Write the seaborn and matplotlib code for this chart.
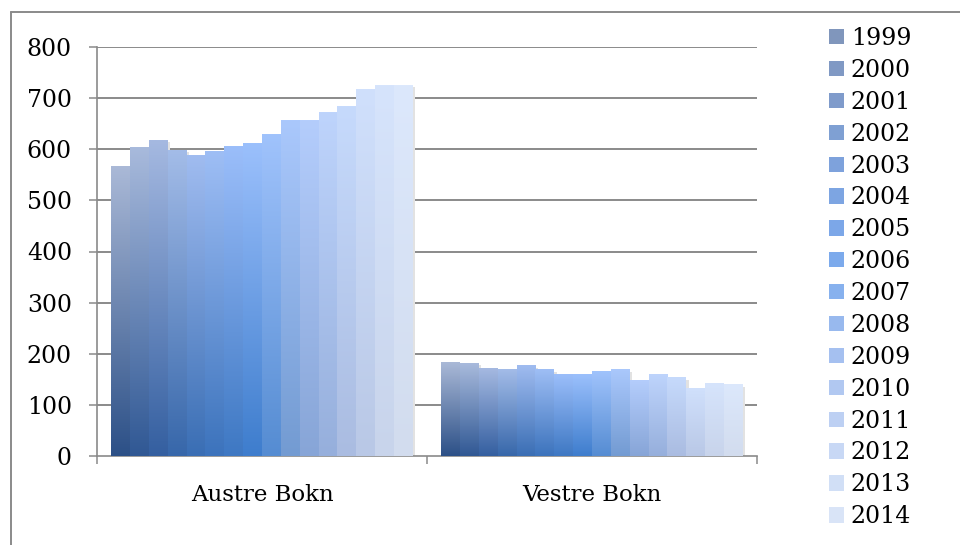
import numpy as np
import pandas as pd
import seaborn as sns
import matplotlib.pyplot as plt
from matplotlib.patches import Patch, Rectangle
from matplotlib.lines import Line2D
from matplotlib.colors import to_rgb
import matplotlib.transforms as mtransforms

# data
regions = ["Austre Bokn", "Vestre Bokn"]
years = [str(y) for y in range(1999, 2015)]
austre = [567, 603, 618, 598, 587, 595, 605, 611, 629, 656, 656, 672, 684, 716, 725, 725]
vestre = [183, 181, 171, 169, 177, 169, 159, 159, 165, 169, 147, 159, 153, 133, 141, 139]
y_ticks = [0, 100, 200, 300, 400, 500, 600, 700, 800]

# gradient colours per year (bottom -> top)
bottom_cols = ["#2c5087", "#305894", "#345fa0", "#3767aa", "#3a6eb4", "#3c73bc", "#3e78c3", "#3e7dcd",
               "#558cd2", "#739bd2", "#87a5d7", "#96afdc", "#aabce1", "#b9c8e6", "#c8d4eb", "#d2dcee"]
top_cols = ["#aab9d7", "#a8badc", "#a5b9e1", "#a3bce8", "#a0bcf0", "#9ebef5", "#9bbefa", "#9bc0fc",
            "#a0c3fc", "#aac8fc", "#b4cdfc", "#bed4fc", "#c6dafc", "#d0e0fc", "#d6e4fc", "#dce8fc"]
mid_cols = [tuple((np.array(to_rgb(b)) + 2 * np.array(to_rgb(t))) / 3) for b, t in zip(bottom_cols, top_cols)]

df = pd.DataFrame({
    "region": [r for r in regions for _ in years],
    "year": years * 2,
    "value": austre + vestre,
})

sns.set_style("white")
plt.rcParams["font.family"] = ["DejaVu Serif"]
plt.rcParams["text.color"] = "black"
plt.rcParams["xtick.labelcolor"] = "black"
plt.rcParams["ytick.labelcolor"] = "black"

fig = plt.figure(figsize=(9.6, 5.45), dpi=100)
ax = fig.add_axes([97 / 960, 1 - 456 / 545, 660 / 960, 409 / 545])

sns.barplot(data=df, x="region", y="value", hue="year", hue_order=years,
            palette=mid_cols, width=0.915, gap=0, legend=False, ax=ax)

grid_c = "#8a8a8a"
shift = mtransforms.ScaledTranslation(2.5 / 100, -2 / 100, fig.dpi_scale_trans)
for i, cont in enumerate(ax.containers):
    c_bot = np.array(to_rgb(bottom_cols[i]))
    c_top = np.array(to_rgb(top_cols[i]))
    t = np.linspace(0, 1, 200)[:, None]
    grad = (c_top * (1 - t) + c_bot * t)[:, None, :]
    for bar in cont:
        x0, w, h = bar.get_x(), bar.get_width(), bar.get_height()
        bar.set_facecolor("none")
        bar.set_edgecolor("none")
        ax.imshow(grad, extent=[x0, x0 + w, 0, h], aspect="auto", zorder=3, interpolation="bilinear")
        ax.add_patch(Rectangle((x0, 0), w, h, facecolor="#e2e2e2", edgecolor="none",
                               transform=ax.transData + shift, zorder=2.5))

ax.set_xlim(-0.5, 1.5)
ax.set_ylim(0, 800)
ax.set_yticks(y_ticks)
ax.set_ylabel("")
ax.set_xlabel("")

for y in y_ticks[1:]:
    ax.axhline(y, color=grid_c, lw=1.4, zorder=1)

for s in ["top", "right"]:
    ax.spines[s].set_visible(False)
for s in ["left", "bottom"]:
    ax.spines[s].set_color(grid_c)
    ax.spines[s].set_linewidth(1.2)

ax.tick_params(axis="y", which="major", direction="out", length=6, width=1.1, color=grid_c,
               labelsize=17, pad=12, left=True)
ax.set_xticks([-0.5, 0.5, 1.5], minor=True)
ax.tick_params(axis="x", which="minor", direction="out", length=6, width=1.1, color=grid_c, bottom=True)
ax.tick_params(axis="x", which="major", length=0, labelsize=16.5, pad=20)

handles = [Patch(facecolor=c, edgecolor="none") for c in mid_cols]
fig.legend(handles, years, loc="upper left", bbox_to_anchor=(829 / 960, 1 - 27 / 545),
           frameon=False, fontsize=17, handlelength=0.62, handleheight=0.62,
           handletextpad=0.3, labelspacing=0.376, borderpad=0, borderaxespad=0)

# outer chart frame
fig.add_artist(Line2D([11 / 960, 11 / 960], [0, 1 - 12 / 545], color=grid_c, lw=1.4))
fig.add_artist(Line2D([11 / 960, 1], [1 - 12 / 545, 1 - 12 / 545], color=grid_c, lw=1.4))

fig.savefig("out.png", dpi=100)
